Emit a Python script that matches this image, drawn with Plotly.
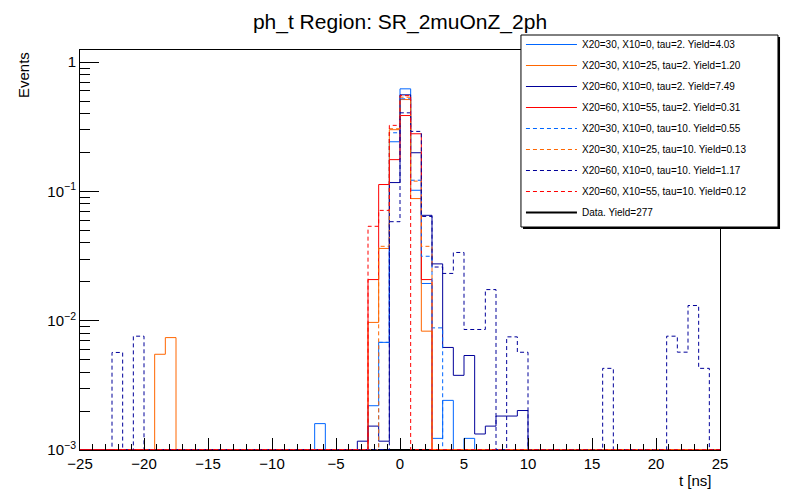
import numpy as np
import plotly.graph_objects as go

# 60 bins from -25 to 25 ns, values per bin (normalised)
nbins = 60
t_edges = np.linspace(-25, 25, nbins + 1)


def hist(entries):
    v = np.zeros(nbins)
    for k, val in entries.items():
        v[k] = val
    return v


# bin index -> content
x30_0_tau2 = hist({22: 0.0016, 27: 0.0022, 28: 0.0068, 29: 0.242, 30: 0.621, 31: 0.102,
                   32: 0.0194, 33: 0.00123, 34: 0.00242, 36: 0.00123})
x30_25_tau2 = hist({7: 0.0055, 8: 0.0074, 27: 0.0097, 28: 0.0362, 29: 0.30, 30: 0.513,
                    31: 0.088, 32: 0.0083})
x60_0_tau2 = hist({26: 0.00117, 27: 0.00153, 28: 0.00117, 29: 0.117, 30: 0.558, 31: 0.199,
                   32: 0.0653, 33: 0.0275, 34: 0.00621, 35: 0.00378, 36: 0.00538,
                   37: 0.00133, 38: 0.00153, 39: 0.00183, 40: 0.00183, 41: 0.00202})
x60_55_tau2 = hist({27: 0.0208, 28: 0.113, 29: 0.176, 30: 0.386, 31: 0.279, 32: 0.0208})
x30_0_tau10 = hist({28: 0.0068, 29: 0.284, 30: 0.52, 31: 0.122, 32: 0.0315, 33: 0.0088})
x30_25_tau10 = hist({28: 0.0376, 29: 0.305, 30: 0.535, 31: 0.12, 32: 0.0376})
x60_0_tau10 = hist({3: 0.00568, 5: 0.00759, 29: 0.0583, 30: 0.405, 31: 0.291, 32: 0.064,
                    33: 0.026, 34: 0.0232, 35: 0.0337, 36: 0.00855, 37: 0.00855,
                    38: 0.0174, 40: 0.0075, 41: 0.0057, 49: 0.00428, 55: 0.00759,
                    56: 0.00571, 57: 0.0131, 58: 0.00428})
x60_55_tau10 = hist({27: 0.0537, 28: 0.0713, 29: 0.324, 30: 0.55})
data_counts = hist({})

labels = ["X20=30, X10=0, tau=2. Yield=4.03",
          "X20=30, X10=25, tau=2. Yield=1.20",
          "X20=60, X10=0, tau=2. Yield=7.49",
          "X20=60, X10=55, tau=2. Yield=0.31",
          "X20=30, X10=0, tau=10. Yield=0.55",
          "X20=30, X10=25, tau=10. Yield=0.13",
          "X20=60, X10=0, tau=10. Yield=1.17",
          "X20=60, X10=55, tau=10. Yield=0.12",
          "Data. Yield=277"]

series = [x30_0_tau2, x30_25_tau2, x60_0_tau2, x60_55_tau2,
          x30_0_tau10, x30_25_tau10, x60_0_tau10, x60_55_tau10]
colors = ["#0066ff", "#ff6600", "#000099", "#ff0000"] * 2
dashes = ["solid"] * 4 + ["4px,3px"] * 4

ymin = 1e-3
ymax = 1.24


def step_y(vals, floor):
    # empty bins sit on the frame floor like in ROOT
    return np.append(np.clip(vals, floor, None), max(vals[-1], floor))


fig = go.Figure()
fig.add_trace(go.Scatter(x=t_edges, y=step_y(data_counts, ymin), mode="lines", line_shape="hv",
                         line=dict(color="black", width=2), name=labels[8],
                         legendgroup="g8", legendrank=9))
for i, h in enumerate(series):
    fig.add_trace(go.Scatter(x=t_edges, y=step_y(h, ymin * 1.006), mode="lines", line_shape="hv",
                             line=dict(color=colors[i], width=1, dash=dashes[i]),
                             name=labels[i], legendgroup="g%d" % i, legendrank=i + 1))

font = "Liberation Sans, Arial, Helvetica, sans-serif"

fig.update_xaxes(range=[-25, 25], showline=True, linecolor="black", linewidth=1, mirror=True,
                 ticks="inside", ticklen=12, tickcolor="black", dtick=5, tick0=0,
                 minor=dict(ticks="inside", ticklen=6, dtick=1, tickcolor="black"),
                 showgrid=False, zeroline=False, tickfont=dict(size=15, color="black"))
fig.update_yaxes(type="log", range=[np.log10(ymin), np.log10(ymax)], showline=True,
                 linecolor="black", linewidth=1, mirror=True,
                 ticks="inside", ticklen=19, tickcolor="black",
                 tickvals=[0.001, 0.01, 0.1, 1],
                 ticktext=["10<sup>\u22123</sup>", "10<sup>\u22122</sup>", "10<sup>\u22121</sup>", "1"],
                 minor=dict(ticks="inside", ticklen=10, tickcolor="black",
                            tickvals=[m * 10.0 ** e for e in (-3, -2, -1) for m in range(2, 10)]),
                 showgrid=False, zeroline=False, tickfont=dict(size=15, color="black"))

# legend frame with ROOT-like shadow, drawn as shapes so the box size matches
legend_shadow = dict(type="rect", xref="paper", yref="paper", x0=0.6922, x1=1.0938,
                     y0=0.5525, y1=1.0325, fillcolor="black", line=dict(width=0), layer="above")
legend_box = dict(type="rect", xref="paper", yref="paper", x0=0.689, x1=1.0906,
                  y0=0.5575, y1=1.0375, fillcolor="white",
                  line=dict(color="black", width=1), layer="above")

# page body adds an 8px offset, so the figure is a bit smaller than the window
fig.update_layout(
    width=784, height=484,
    margin=dict(l=72, r=72, t=42, b=42, autoexpand=False),
    paper_bgcolor="white", plot_bgcolor="white",
    font=dict(family=font, color="black"),
    title=dict(text="ph_t Region: SR_2muOnZ_2ph", x=0.5, xanchor="center", y=0.971,
               yanchor="middle", font=dict(size=21)),
    shapes=[legend_shadow, legend_box],
    legend=dict(x=0.689, y=1.05, xanchor="left", yanchor="top", bgcolor="rgba(0,0,0,0)",
                borderwidth=0, font=dict(size=10),
                traceorder="grouped", tracegroupgap=2, itemwidth=51),
    annotations=[
        dict(text="Events", xref="paper", yref="paper", x=-0.089, y=1.0, xanchor="center",
             yanchor="top", textangle=-90, showarrow=False, font=dict(size=15)),
        dict(text="t [ns]", xref="paper", yref="paper", x=0.99, y=-0.0775, xanchor="right",
             yanchor="middle", showarrow=False, font=dict(size=15)),
    ],
)

fig.write_html("out.html")
